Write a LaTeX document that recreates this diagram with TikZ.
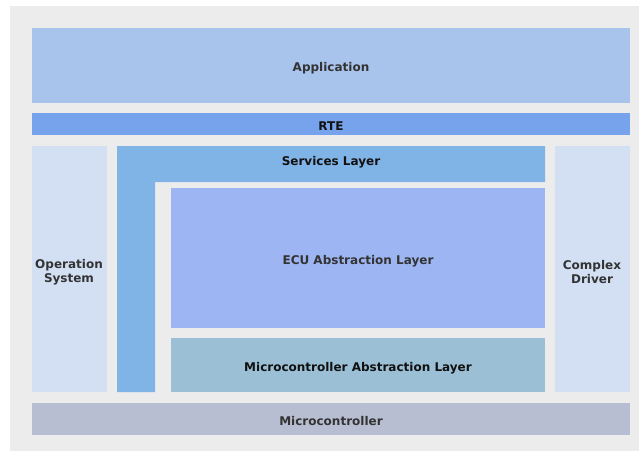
\documentclass[tikz,border=0pt]{standalone}
\usepackage{fontspec}
\setmainfont{DejaVu Sans}
\definecolor{bgcol}{HTML}{ECECEC}
\definecolor{appcol}{HTML}{A8C4EC}
\definecolor{rtecol}{HTML}{76A3EC}
\definecolor{oscol}{HTML}{D3E0F4}
\definecolor{svccol}{HTML}{80B3E6}
\definecolor{ecucol}{HTML}{9DB5F2}
\definecolor{mcalcol}{HTML}{9BC0D6}
\definecolor{mcucol}{HTML}{B8BED1}
\definecolor{txtgrey}{HTML}{333333}
\definecolor{txtdark}{HTML}{111111}
\tikzset{
  lbl/.style={font=\bfseries\fontsize{12}{14}\selectfont, text=txtgrey, align=center, inner sep=0pt},
  lbldark/.style={lbl, text=txtdark}
}
\begin{document}
\begin{tikzpicture}[x=1pt,y=-1pt]
\useasboundingbox (0,0) rectangle (639,452);
% backdrop
\fill[bgcol] (10,6) rectangle (639,451);
% layer boxes
\fill[appcol]  (32,28)   rectangle (630,103);
\fill[rtecol]  (32,113)  rectangle (630,135);
\fill[oscol]   (32,146)  rectangle (107,392);
\fill[oscol]   (555,146) rectangle (630,392);
\fill[svccol]  (117,146) -- (545,146) -- (545,182) -- (155,182) -- (155,392) -- (117,392) -- cycle;
\fill[ecucol]  (171,188) rectangle (545,328);
\fill[mcalcol] (171,338) rectangle (545,392);
\fill[mcucol]  (32,403)  rectangle (630,435);
% labels
\node[lbl]     (app)  at (331,68.5)  {Application};
\node[lbldark] (rte)  at (331,126.5) {RTE};
\node[lbl]     (os)   at (69,272)  {Operation\\System};
\node[lbl]     (cdd)  at (592,272) {Complex\\Driver};
\node[lbldark] (svc)  at (331,162.5) {Services Layer};
\node[lbl]     (ecu)  at (358,261.5) {ECU Abstraction Layer};
\node[lbldark] (mcal) at (358,368.5) {Microcontroller Abstraction Layer};
\node[lbl]     (mcu)  at (331,421.5) {Microcontroller};
\end{tikzpicture}
\end{document}
